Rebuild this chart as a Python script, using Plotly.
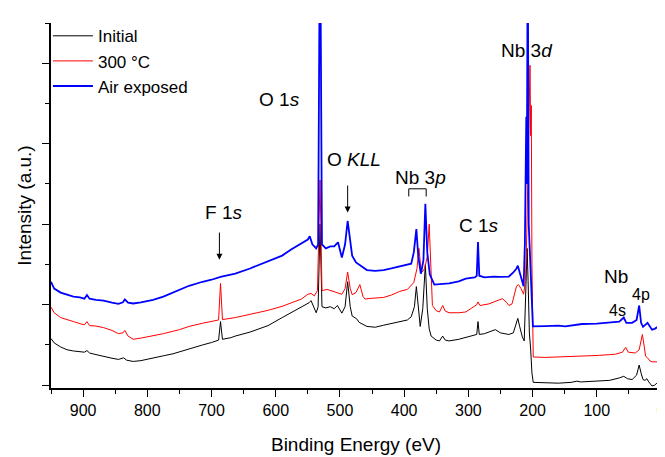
import plotly.graph_objects as go

# ---------------- data ----------------
be_initial = [950, 945, 935, 925, 915, 905, 898, 894, 890, 880, 868, 855, 845, 837, 832, 822, 810, 800, 791, 775,
              760, 750, 735, 714, 700, 689, 686, 683, 670, 663, 640, 612, 590, 576, 560, 548, 545, 540, 537, 534,
              531, 528, 522, 515, 509, 504, 497, 492, 488, 484, 481, 474, 470, 458, 445, 432, 420, 407, 395, 389,
              384, 381, 378, 375, 371, 367, 364, 361, 358, 350, 345, 340, 336, 330, 315, 304, 290, 287, 285, 283,
              275, 265, 258, 250, 237, 230, 226, 223, 220, 216, 213, 210, 208.5, 207, 205, 203, 201, 199, 180, 160,
              140, 131, 125, 110, 100, 80, 65, 58, 52, 45, 38, 34, 31, 28, 25, 22, 19, 14, 10, 6.5, 3, 0]
int_initial = [1.16, 1.05, 0.95, 0.88, 0.85, 0.84, 0.82, 0.86, 0.80, 0.76, 0.71, 0.67, 0.64, 0.68, 0.62, 0.59, 0.61, 0.64, 0.67, 0.73,
               0.78, 0.83, 0.90, 1.00, 1.06, 1.12, 1.58, 1.14, 1.18, 1.22, 1.32, 1.48, 1.68, 1.80, 1.93, 2.05, 2.10, 1.90, 1.80, 1.95,
               4.00, 1.95, 1.92, 1.95, 1.90, 1.98, 1.79, 1.95, 2.57, 1.95, 1.72, 1.65, 1.56, 1.46, 1.44, 1.49, 1.53, 1.58, 1.62, 1.70,
               1.95, 2.45, 1.85, 1.46, 1.90, 3.00, 1.90, 1.40, 1.22, 1.12, 1.10, 1.22, 1.12, 1.10, 1.14, 1.18, 1.24, 1.26, 1.58, 1.26,
               1.28, 1.34, 1.38, 1.30, 1.26, 1.30, 1.50, 1.66, 1.45, 1.20, 1.10, 2.40, 3.40, 2.60, 1.30, 0.90, 0.30, 0.07, 0.06, 0.05,
               0.07, 0.10, 0.08, 0.09, 0.10, 0.12, 0.18, 0.22, 0.16, 0.14, 0.25, 0.50, 0.30, 0.14, 0.12, 0.16, 0.08, -0.02, 0.00, 0.05, -0.01, -0.03]

be_300c = [950, 945, 935, 925, 915, 905, 898, 894, 890, 880, 868, 855, 845, 838, 835, 830, 822, 810, 791, 775,
           750, 735, 714, 700, 689, 686, 683, 663, 640, 612, 590, 576, 560, 550, 545, 540, 535, 531, 528, 520,
           509, 497, 492, 488, 484, 481, 475, 469, 464, 461, 450, 432, 420, 407, 395, 385, 380, 377, 374, 372,
           368, 364, 361, 358, 356, 350, 345, 340, 336, 330, 315, 304, 290, 287, 285, 282, 268, 258, 247, 240,
           237, 232, 228, 225, 222, 218, 214, 211, 209, 206.5, 204, 203, 202, 201, 200, 199, 180, 160, 140, 120,
           97, 80, 71, 60, 55, 51, 45, 40, 34, 31, 29, 26, 24, 21, 17, 14, 10, 5, 2, 0]
int_300c = [1.94, 1.80, 1.68, 1.62, 1.58, 1.53, 1.50, 1.58, 1.48, 1.47, 1.43, 1.36, 1.28, 1.30, 1.36, 1.22, 1.14, 1.17, 1.22, 1.28,
            1.38, 1.46, 1.54, 1.58, 1.62, 2.53, 1.63, 1.68, 1.76, 1.86, 1.96, 2.05, 2.14, 2.26, 2.28, 2.22, 2.35, 5.10, 2.35, 2.38,
            2.33, 2.26, 2.40, 2.81, 2.40, 2.25, 2.30, 2.50, 2.20, 2.14, 2.16, 2.18, 2.24, 2.33, 2.38, 2.55, 2.90, 3.40, 2.90, 2.81,
            2.90, 3.20, 4.00, 2.60, 1.98, 1.85, 1.82, 1.98, 1.84, 1.80, 1.80, 1.82, 1.96, 2.00, 2.07, 1.98, 2.02, 2.08, 2.15, 2.05,
            1.98, 2.02, 2.30, 2.46, 2.50, 2.40, 2.26, 2.60, 3.80, 6.00, 7.95, 6.20, 6.95, 3.00, 0.90, 0.70, 0.69, 0.70, 0.71, 0.72,
            0.74, 0.76, 0.77, 0.82, 0.94, 0.82, 0.80, 0.80, 0.88, 1.10, 1.26, 0.95, 0.72, 0.68, 0.60, 0.58, 0.58, 0.58, 0.64, 0.72]

be_air = [950, 945, 935, 925, 915, 905, 898, 894, 890, 880, 868, 855, 845, 838, 835, 830, 822, 810, 791, 775,
          760, 750, 735, 714, 700, 686, 663, 640, 612, 590, 576, 560, 550, 547, 543, 537, 534, 531, 528, 522,
          515, 509, 503, 497, 492, 488, 484, 481, 475, 469, 458, 445, 432, 420, 407, 395, 389, 385, 381, 378,
          374, 370, 367, 364, 360, 353, 340, 330, 315, 304, 290, 287, 285, 283, 275, 260, 252, 237, 230, 225,
          223, 219, 214, 212, 209.8, 209, 207.5, 206, 204, 203, 201, 199.5, 180, 160, 149, 130, 123, 100, 81, 65,
          58, 54, 45, 38, 34, 31, 28, 24, 21, 17, 14, 10, 5, 2, 0]
int_air = [2.57, 2.40, 2.30, 2.24, 2.20, 2.18, 2.15, 2.24, 2.15, 2.12, 2.10, 2.05, 2.02, 2.06, 2.13, 2.05, 2.03, 2.06, 2.12, 2.20,
           2.30, 2.38, 2.47, 2.57, 2.62, 2.69, 2.77, 2.90, 3.09, 3.22, 3.37, 3.52, 3.62, 3.70, 3.50, 3.40, 3.50, 12.0, 3.50, 3.40,
           3.45, 3.45, 3.55, 3.17, 3.50, 4.08, 3.50, 3.22, 3.05, 2.98, 2.86, 2.84, 2.86, 2.90, 2.95, 2.98, 3.02, 3.30, 3.88, 3.20,
           2.77, 3.10, 4.51, 3.30, 2.75, 2.50, 2.52, 2.53, 2.58, 2.65, 2.68, 2.72, 3.56, 2.72, 2.68, 2.70, 2.69, 2.70, 2.80, 2.90,
           2.97, 2.75, 2.46, 3.50, 6.67, 5.00, 11.0, 4.00, 3.20, 3.10, 2.20, 1.46, 1.47, 1.48, 1.46, 1.50, 1.52, 1.53, 1.55, 1.58,
           1.68, 1.55, 1.55, 1.62, 1.98, 1.55, 1.45, 1.50, 1.55, 1.45, 1.38, 1.40, 1.45, 1.40, 1.38]

series_names = ["Initial", "300 \u00b0C", "Air exposed"]
series_colors = ["#000000", "#ff0000", "#0000ff"]
series_widths = [1, 1, 1.8]

x_tick_vals = [0, 100, 200, 300, 400, 500, 600, 700, 800, 900]
x_tick_text = ["0", "100", "200", "300", "400", "500", "600", "700", "800", "900"]
y_tick_vals = [0, 2, 4, 6, 8]

# peak labels: (text, eV, intensity, font size)
peak_labels = [
    ("Nb 3<i>d</i>", 209, 8.31, 19),
    ("O 1<i>s</i>", 594, 7.10, 19),
    ("O <i>KLL</i>", 478, 5.60, 19),
    ("Nb 3<i>p</i>", 375, 5.17, 19),
    ("C 1<i>s</i>", 284, 3.98, 19),
    ("F 1<i>s</i>", 681, 4.29, 19),
    ("Nb", 70, 2.69, 19),
    ("4s", 68, 1.86, 16),
    ("4p", 31, 2.26, 16),
]
# arrows: (eV, tip intensity, tail intensity)
arrows = [(488, 4.29, 5.00), (687.7, 3.12, 3.83)]
# Nb 3p bracket: (left eV, right eV, top, bottom)
bracket = (392.8, 365.7, 4.88, 4.69)

FONT = "Liberation Sans, Arial, sans-serif"

fig = go.Figure()
for be, inten, name, col, w in zip([be_initial, be_300c, be_air], [int_initial, int_300c, int_air],
                                   series_names, series_colors, series_widths):
    fig.add_trace(go.Scatter(x=be, y=inten, mode="lines", name=name, line=dict(color=col, width=w)))

for txt, xv, yv, fs in peak_labels:
    fig.add_annotation(x=xv, y=yv, text=txt, showarrow=False, font=dict(size=fs, color="black", family=FONT),
                       xanchor="center", yanchor="middle")

for xv, ytip, ytail in arrows:
    fig.add_annotation(x=xv, y=ytip, ax=xv, ay=ytail, axref="x", ayref="y", text="", showarrow=True,
                       arrowhead=2, arrowsize=1.2, arrowwidth=1, arrowcolor="black")

bl, br, bt, bb = bracket
for (x0, y0, x1, y1) in [(bl, bt, br, bt), (bl, bt, bl, bb), (br, bt, br, bb)]:
    fig.add_shape(type="line", x0=x0, y0=y0, x1=x1, y1=y1, xref="x", yref="y",
                  line=dict(color="black", width=1))

axis_common = dict(showline=True, linecolor="black", linewidth=1.5, showgrid=False, zeroline=False,
                   tickcolor="black", tickwidth=1.2)

fig.update_layout(
    width=665, height=457,
    margin=dict(l=43, r=7, t=15, b=77),
    paper_bgcolor="white", plot_bgcolor="white",
    font=dict(family=FONT, size=16, color="black"),
    showlegend=True,
    legend=dict(x=-0.005, y=1.013, xanchor="left", yanchor="top", bgcolor="rgba(0,0,0,0)",
                font=dict(size=17, family=FONT), tracegroupgap=0, itemwidth=40),
    xaxis=dict(range=[950, 0], ticks="outside", ticklen=7, tickvals=x_tick_vals, ticktext=x_tick_text,
               ticklabeloverflow="allow",
               minor=dict(dtick=50, tick0=0, ticks="outside", ticklen=4, tickcolor="black", tickwidth=1.2),
               title=dict(text="Binding Energy (eV)", font=dict(size=19, family=FONT), standoff=20),
               tickfont=dict(size=16, family=FONT), **axis_common),
    xaxis2=dict(range=[950, 0], overlaying="x", side="top", ticks="inside", ticklen=6, tickvals=x_tick_vals,
                showticklabels=False,
                minor=dict(dtick=50, tick0=0, ticks="inside", ticklen=4, tickcolor="black", tickwidth=1.2),
                **axis_common),
    yaxis=dict(range=[-0.07, 9.0], ticks="outside", ticklen=7, tickvals=y_tick_vals, showticklabels=False,
               minor=dict(dtick=1, tick0=0, ticks="outside", ticklen=4, tickcolor="black", tickwidth=1.2),
               title=dict(text="Intensity (a.u.)", font=dict(size=19, family=FONT), standoff=6),
               **axis_common),
    yaxis2=dict(range=[-0.07, 9.0], overlaying="y", side="right", ticks="inside", ticklen=6,
                tickvals=y_tick_vals, showticklabels=False,
                minor=dict(dtick=1, tick0=0, ticks="inside", ticklen=4, tickcolor="black", tickwidth=1.2),
                **axis_common),
)

fig.write_html("out.html")
